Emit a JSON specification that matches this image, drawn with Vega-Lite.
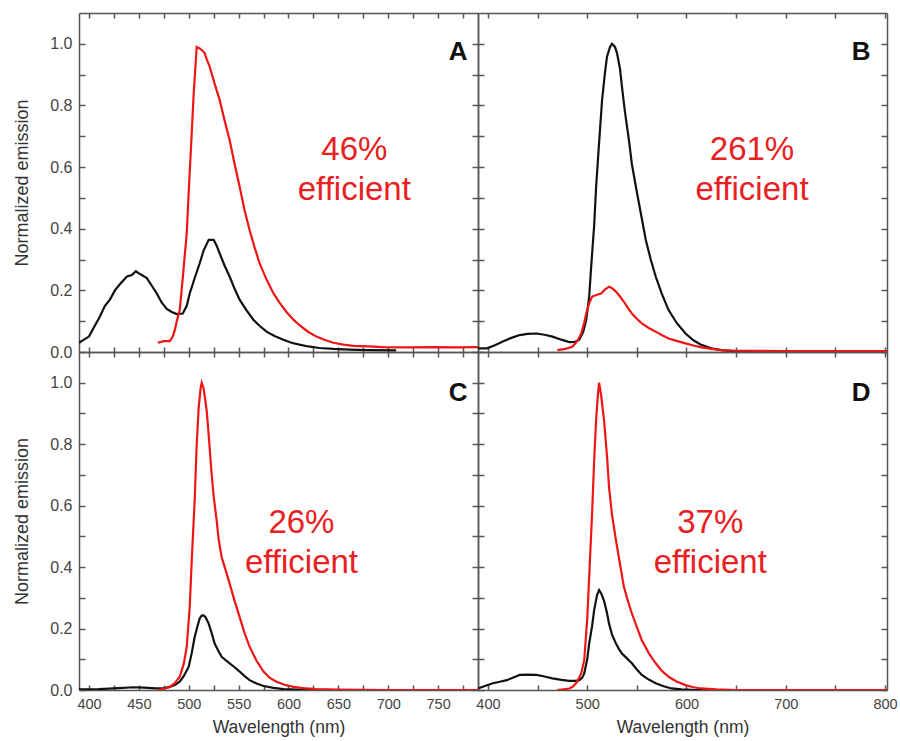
{
  "$schema": "https://vega.github.io/schema/vega-lite/v6.json",
  "padding": {"left": 13, "top": 12, "right": 5, "bottom": 5},
  "background": "white",
  "config": {
    "view": {"stroke": null},
    "font": "Liberation Sans",
    "axis": {"grid": false, "domainColor": "#555555", "domainWidth": 1.5, "tickColor": "#555555", "tickWidth": 1.5, "labelColor": "#444444", "labelFont": "Liberation Sans", "titleFont": "Liberation Sans", "titleFontWeight": "normal", "titleColor": "#333333", "labelFontSize": 16, "titleFontSize": 17.5}
  },
  "datasets": {
    "curves": [
      {"panel":"A","series":"black","wl":390,"v":0.03},{"panel":"A","series":"black","wl":395,"v":0.04},{"panel":"A","series":"black","wl":400,"v":0.05},{"panel":"A","series":"black","wl":405,"v":0.08},{"panel":"A","series":"black","wl":411,"v":0.115},{"panel":"A","series":"black","wl":416,"v":0.15},{"panel":"A","series":"black","wl":421,"v":0.17},{"panel":"A","series":"black","wl":426,"v":0.2},{"panel":"A","series":"black","wl":431,"v":0.22},{"panel":"A","series":"black","wl":438,"v":0.245},{"panel":"A","series":"black","wl":443,"v":0.25},{"panel":"A","series":"black","wl":447,"v":0.262},{"panel":"A","series":"black","wl":450,"v":0.255},{"panel":"A","series":"black","wl":453,"v":0.25},{"panel":"A","series":"black","wl":458,"v":0.24},{"panel":"A","series":"black","wl":463,"v":0.215},{"panel":"A","series":"black","wl":468,"v":0.19},{"panel":"A","series":"black","wl":473,"v":0.16},{"panel":"A","series":"black","wl":478,"v":0.14},{"panel":"A","series":"black","wl":483,"v":0.13},{"panel":"A","series":"black","wl":488,"v":0.123},{"panel":"A","series":"black","wl":494,"v":0.125},{"panel":"A","series":"black","wl":498,"v":0.15},{"panel":"A","series":"black","wl":501,"v":0.19},{"panel":"A","series":"black","wl":506,"v":0.24},{"panel":"A","series":"black","wl":511,"v":0.288},{"panel":"A","series":"black","wl":515,"v":0.33},{"panel":"A","series":"black","wl":520,"v":0.364},{"panel":"A","series":"black","wl":525,"v":0.364},{"panel":"A","series":"black","wl":528,"v":0.345},{"panel":"A","series":"black","wl":531,"v":0.32},{"panel":"A","series":"black","wl":536,"v":0.28},{"panel":"A","series":"black","wl":541,"v":0.245},{"panel":"A","series":"black","wl":546,"v":0.205},{"panel":"A","series":"black","wl":551,"v":0.17},{"panel":"A","series":"black","wl":558,"v":0.135},{"panel":"A","series":"black","wl":565,"v":0.104},{"panel":"A","series":"black","wl":571,"v":0.085},{"panel":"A","series":"black","wl":578,"v":0.066},{"panel":"A","series":"black","wl":586,"v":0.052},{"panel":"A","series":"black","wl":595,"v":0.04},{"panel":"A","series":"black","wl":603,"v":0.03},{"panel":"A","series":"black","wl":611,"v":0.024},{"panel":"A","series":"black","wl":620,"v":0.018},{"panel":"A","series":"black","wl":631,"v":0.013},{"panel":"A","series":"black","wl":645,"v":0.01},{"panel":"A","series":"black","wl":661,"v":0.008},{"panel":"A","series":"black","wl":680,"v":0.006},{"panel":"A","series":"black","wl":708,"v":0.005},
      {"panel":"A","series":"red","wl":469,"v":0.03},{"panel":"A","series":"red","wl":475,"v":0.035},{"panel":"A","series":"red","wl":481,"v":0.035},{"panel":"A","series":"red","wl":484,"v":0.05},{"panel":"A","series":"red","wl":486,"v":0.07},{"panel":"A","series":"red","wl":488,"v":0.1},{"panel":"A","series":"red","wl":491,"v":0.136},{"panel":"A","series":"red","wl":494,"v":0.24},{"panel":"A","series":"red","wl":498,"v":0.385},{"panel":"A","series":"red","wl":500,"v":0.52},{"panel":"A","series":"red","wl":503,"v":0.71},{"panel":"A","series":"red","wl":505,"v":0.84},{"panel":"A","series":"red","wl":508,"v":0.99},{"panel":"A","series":"red","wl":511,"v":0.985},{"panel":"A","series":"red","wl":513,"v":0.98},{"panel":"A","series":"red","wl":516,"v":0.97},{"panel":"A","series":"red","wl":518,"v":0.95},{"panel":"A","series":"red","wl":521,"v":0.926},{"panel":"A","series":"red","wl":526,"v":0.87},{"panel":"A","series":"red","wl":531,"v":0.818},{"panel":"A","series":"red","wl":536,"v":0.75},{"panel":"A","series":"red","wl":541,"v":0.688},{"panel":"A","series":"red","wl":546,"v":0.61},{"panel":"A","series":"red","wl":551,"v":0.537},{"panel":"A","series":"red","wl":556,"v":0.46},{"panel":"A","series":"red","wl":561,"v":0.396},{"panel":"A","series":"red","wl":566,"v":0.34},{"panel":"A","series":"red","wl":571,"v":0.288},{"panel":"A","series":"red","wl":578,"v":0.235},{"panel":"A","series":"red","wl":585,"v":0.19},{"panel":"A","series":"red","wl":591,"v":0.16},{"panel":"A","series":"red","wl":598,"v":0.13},{"panel":"A","series":"red","wl":605,"v":0.105},{"panel":"A","series":"red","wl":611,"v":0.087},{"panel":"A","series":"red","wl":620,"v":0.065},{"panel":"A","series":"red","wl":628,"v":0.05},{"panel":"A","series":"red","wl":636,"v":0.04},{"panel":"A","series":"red","wl":645,"v":0.03},{"panel":"A","series":"red","wl":655,"v":0.024},{"panel":"A","series":"red","wl":665,"v":0.02},{"panel":"A","series":"red","wl":680,"v":0.018},{"panel":"A","series":"red","wl":695,"v":0.016},{"panel":"A","series":"red","wl":720,"v":0.015},{"panel":"A","series":"red","wl":745,"v":0.016},{"panel":"A","series":"red","wl":770,"v":0.015},{"panel":"A","series":"red","wl":790,"v":0.016},
      {"panel":"B","series":"black","wl":390,"v":0.012},{"panel":"B","series":"black","wl":399,"v":0.012},{"panel":"B","series":"black","wl":407,"v":0.022},{"panel":"B","series":"black","wl":415,"v":0.034},{"panel":"B","series":"black","wl":423,"v":0.045},{"panel":"B","series":"black","wl":432,"v":0.055},{"panel":"B","series":"black","wl":440,"v":0.059},{"panel":"B","series":"black","wl":449,"v":0.06},{"panel":"B","series":"black","wl":457,"v":0.056},{"panel":"B","series":"black","wl":465,"v":0.05},{"panel":"B","series":"black","wl":474,"v":0.04},{"panel":"B","series":"black","wl":482,"v":0.032},{"panel":"B","series":"black","wl":488,"v":0.033},{"panel":"B","series":"black","wl":492,"v":0.04},{"panel":"B","series":"black","wl":496,"v":0.065},{"panel":"B","series":"black","wl":499,"v":0.104},{"panel":"B","series":"black","wl":502,"v":0.18},{"panel":"B","series":"black","wl":504,"v":0.277},{"panel":"B","series":"black","wl":507,"v":0.41},{"panel":"B","series":"black","wl":509,"v":0.537},{"panel":"B","series":"black","wl":512,"v":0.68},{"panel":"B","series":"black","wl":515,"v":0.818},{"panel":"B","series":"black","wl":518,"v":0.91},{"panel":"B","series":"black","wl":520,"v":0.959},{"panel":"B","series":"black","wl":523,"v":0.99},{"panel":"B","series":"black","wl":525,"v":1.0},{"panel":"B","series":"black","wl":528,"v":0.99},{"panel":"B","series":"black","wl":530,"v":0.97},{"panel":"B","series":"black","wl":533,"v":0.92},{"panel":"B","series":"black","wl":535,"v":0.861},{"panel":"B","series":"black","wl":538,"v":0.78},{"panel":"B","series":"black","wl":542,"v":0.688},{"panel":"B","series":"black","wl":545,"v":0.61},{"panel":"B","series":"black","wl":549,"v":0.537},{"panel":"B","series":"black","wl":554,"v":0.45},{"panel":"B","series":"black","wl":559,"v":0.364},{"panel":"B","series":"black","wl":564,"v":0.3},{"panel":"B","series":"black","wl":569,"v":0.245},{"panel":"B","series":"black","wl":575,"v":0.19},{"panel":"B","series":"black","wl":582,"v":0.136},{"panel":"B","series":"black","wl":590,"v":0.095},{"panel":"B","series":"black","wl":599,"v":0.06},{"panel":"B","series":"black","wl":607,"v":0.038},{"panel":"B","series":"black","wl":615,"v":0.023},{"panel":"B","series":"black","wl":625,"v":0.012},{"panel":"B","series":"black","wl":635,"v":0.006},{"panel":"B","series":"black","wl":650,"v":0.002},{"panel":"B","series":"black","wl":670,"v":0.001},{"panel":"B","series":"black","wl":700,"v":0.0},
      {"panel":"B","series":"red","wl":470,"v":0.006},{"panel":"B","series":"red","wl":478,"v":0.01},{"panel":"B","series":"red","wl":485,"v":0.017},{"panel":"B","series":"red","wl":490,"v":0.035},{"panel":"B","series":"red","wl":494,"v":0.06},{"panel":"B","series":"red","wl":497,"v":0.095},{"panel":"B","series":"red","wl":499,"v":0.125},{"panel":"B","series":"red","wl":502,"v":0.158},{"panel":"B","series":"red","wl":505,"v":0.18},{"panel":"B","series":"red","wl":510,"v":0.186},{"panel":"B","series":"red","wl":514,"v":0.19},{"panel":"B","series":"red","wl":518,"v":0.203},{"panel":"B","series":"red","wl":522,"v":0.212},{"panel":"B","series":"red","wl":525,"v":0.207},{"panel":"B","series":"red","wl":529,"v":0.196},{"panel":"B","series":"red","wl":533,"v":0.18},{"panel":"B","series":"red","wl":537,"v":0.163},{"panel":"B","series":"red","wl":541,"v":0.143},{"panel":"B","series":"red","wl":545,"v":0.125},{"panel":"B","series":"red","wl":550,"v":0.108},{"panel":"B","series":"red","wl":555,"v":0.093},{"panel":"B","series":"red","wl":562,"v":0.078},{"panel":"B","series":"red","wl":569,"v":0.066},{"panel":"B","series":"red","wl":575,"v":0.055},{"panel":"B","series":"red","wl":582,"v":0.044},{"panel":"B","series":"red","wl":590,"v":0.036},{"panel":"B","series":"red","wl":599,"v":0.028},{"panel":"B","series":"red","wl":607,"v":0.021},{"panel":"B","series":"red","wl":615,"v":0.015},{"panel":"B","series":"red","wl":625,"v":0.01},{"panel":"B","series":"red","wl":635,"v":0.006},{"panel":"B","series":"red","wl":650,"v":0.004},{"panel":"B","series":"red","wl":700,"v":0.003},{"panel":"B","series":"red","wl":750,"v":0.003},{"panel":"B","series":"red","wl":802,"v":0.003},
      {"panel":"C","series":"black","wl":390,"v":0.002},{"panel":"C","series":"black","wl":410,"v":0.003},{"panel":"C","series":"black","wl":430,"v":0.006},{"panel":"C","series":"black","wl":444,"v":0.009},{"panel":"C","series":"black","wl":455,"v":0.008},{"panel":"C","series":"black","wl":467,"v":0.005},{"panel":"C","series":"black","wl":475,"v":0.006},{"panel":"C","series":"black","wl":481,"v":0.01},{"panel":"C","series":"black","wl":486,"v":0.016},{"panel":"C","series":"black","wl":491,"v":0.027},{"panel":"C","series":"black","wl":495,"v":0.045},{"panel":"C","series":"black","wl":500,"v":0.076},{"panel":"C","series":"black","wl":503,"v":0.12},{"panel":"C","series":"black","wl":506,"v":0.173},{"panel":"C","series":"black","wl":509,"v":0.21},{"panel":"C","series":"black","wl":511,"v":0.233},{"panel":"C","series":"black","wl":513,"v":0.242},{"panel":"C","series":"black","wl":515,"v":0.243},{"panel":"C","series":"black","wl":517,"v":0.236},{"panel":"C","series":"black","wl":520,"v":0.216},{"panel":"C","series":"black","wl":523,"v":0.185},{"panel":"C","series":"black","wl":526,"v":0.151},{"panel":"C","series":"black","wl":530,"v":0.125},{"panel":"C","series":"black","wl":533,"v":0.108},{"panel":"C","series":"black","wl":537,"v":0.097},{"panel":"C","series":"black","wl":541,"v":0.087},{"panel":"C","series":"black","wl":546,"v":0.074},{"panel":"C","series":"black","wl":551,"v":0.06},{"panel":"C","series":"black","wl":556,"v":0.045},{"panel":"C","series":"black","wl":561,"v":0.032},{"panel":"C","series":"black","wl":568,"v":0.021},{"panel":"C","series":"black","wl":575,"v":0.013},{"panel":"C","series":"black","wl":585,"v":0.007},{"panel":"C","series":"black","wl":595,"v":0.003},{"panel":"C","series":"black","wl":610,"v":0.001},{"panel":"C","series":"black","wl":640,"v":0.0},
      {"panel":"C","series":"red","wl":469,"v":0.0},{"panel":"C","series":"red","wl":475,"v":0.004},{"panel":"C","series":"red","wl":481,"v":0.01},{"panel":"C","series":"red","wl":486,"v":0.022},{"panel":"C","series":"red","wl":491,"v":0.043},{"panel":"C","series":"red","wl":495,"v":0.085},{"panel":"C","series":"red","wl":498,"v":0.14},{"panel":"C","series":"red","wl":501,"v":0.27},{"panel":"C","series":"red","wl":503,"v":0.42},{"panel":"C","series":"red","wl":506,"v":0.62},{"panel":"C","series":"red","wl":508,"v":0.8},{"panel":"C","series":"red","wl":510,"v":0.92},{"panel":"C","series":"red","wl":512,"v":0.985},{"panel":"C","series":"red","wl":513,"v":1.0},{"panel":"C","series":"red","wl":515,"v":0.98},{"panel":"C","series":"red","wl":518,"v":0.909},{"panel":"C","series":"red","wl":520,"v":0.83},{"panel":"C","series":"red","wl":523,"v":0.703},{"panel":"C","series":"red","wl":525,"v":0.63},{"panel":"C","series":"red","wl":528,"v":0.552},{"panel":"C","series":"red","wl":530,"v":0.49},{"panel":"C","series":"red","wl":533,"v":0.433},{"panel":"C","series":"red","wl":537,"v":0.39},{"panel":"C","series":"red","wl":541,"v":0.346},{"panel":"C","series":"red","wl":546,"v":0.29},{"panel":"C","series":"red","wl":551,"v":0.238},{"panel":"C","series":"red","wl":556,"v":0.185},{"panel":"C","series":"red","wl":561,"v":0.141},{"panel":"C","series":"red","wl":568,"v":0.095},{"panel":"C","series":"red","wl":575,"v":0.06},{"panel":"C","series":"red","wl":581,"v":0.04},{"panel":"C","series":"red","wl":588,"v":0.027},{"panel":"C","series":"red","wl":596,"v":0.017},{"panel":"C","series":"red","wl":605,"v":0.01},{"panel":"C","series":"red","wl":615,"v":0.006},{"panel":"C","series":"red","wl":627,"v":0.003},{"panel":"C","series":"red","wl":650,"v":0.001},{"panel":"C","series":"red","wl":700,"v":0.0},{"panel":"C","series":"red","wl":790,"v":0.0},
      {"panel":"D","series":"black","wl":390,"v":0.005},{"panel":"D","series":"black","wl":397,"v":0.013},{"panel":"D","series":"black","wl":405,"v":0.022},{"panel":"D","series":"black","wl":412,"v":0.027},{"panel":"D","series":"black","wl":419,"v":0.032},{"panel":"D","series":"black","wl":425,"v":0.04},{"panel":"D","series":"black","wl":432,"v":0.049},{"panel":"D","series":"black","wl":440,"v":0.05},{"panel":"D","series":"black","wl":449,"v":0.049},{"panel":"D","series":"black","wl":457,"v":0.044},{"panel":"D","series":"black","wl":465,"v":0.038},{"panel":"D","series":"black","wl":474,"v":0.033},{"panel":"D","series":"black","wl":482,"v":0.03},{"panel":"D","series":"black","wl":488,"v":0.03},{"panel":"D","series":"black","wl":492,"v":0.032},{"panel":"D","series":"black","wl":495,"v":0.04},{"panel":"D","series":"black","wl":497,"v":0.054},{"panel":"D","series":"black","wl":500,"v":0.1},{"panel":"D","series":"black","wl":502,"v":0.151},{"panel":"D","series":"black","wl":505,"v":0.21},{"panel":"D","series":"black","wl":507,"v":0.26},{"panel":"D","series":"black","wl":510,"v":0.31},{"panel":"D","series":"black","wl":512,"v":0.325},{"panel":"D","series":"black","wl":514,"v":0.315},{"panel":"D","series":"black","wl":517,"v":0.29},{"panel":"D","series":"black","wl":520,"v":0.25},{"panel":"D","series":"black","wl":522,"v":0.216},{"panel":"D","series":"black","wl":525,"v":0.18},{"panel":"D","series":"black","wl":529,"v":0.151},{"panel":"D","series":"black","wl":532,"v":0.133},{"panel":"D","series":"black","wl":535,"v":0.119},{"panel":"D","series":"black","wl":540,"v":0.103},{"panel":"D","series":"black","wl":545,"v":0.087},{"panel":"D","series":"black","wl":550,"v":0.067},{"panel":"D","series":"black","wl":555,"v":0.049},{"panel":"D","series":"black","wl":562,"v":0.034},{"panel":"D","series":"black","wl":569,"v":0.022},{"panel":"D","series":"black","wl":577,"v":0.012},{"panel":"D","series":"black","wl":585,"v":0.005},{"panel":"D","series":"black","wl":595,"v":0.002},{"panel":"D","series":"black","wl":610,"v":0.0},{"panel":"D","series":"black","wl":640,"v":0.0},
      {"panel":"D","series":"red","wl":470,"v":0.0},{"panel":"D","series":"red","wl":476,"v":0.002},{"panel":"D","series":"red","wl":482,"v":0.005},{"panel":"D","series":"red","wl":486,"v":0.012},{"panel":"D","series":"red","wl":490,"v":0.027},{"panel":"D","series":"red","wl":494,"v":0.055},{"panel":"D","series":"red","wl":497,"v":0.097},{"panel":"D","series":"red","wl":500,"v":0.23},{"panel":"D","series":"red","wl":502,"v":0.368},{"panel":"D","series":"red","wl":505,"v":0.58},{"panel":"D","series":"red","wl":507,"v":0.747},{"panel":"D","series":"red","wl":509,"v":0.88},{"panel":"D","series":"red","wl":511,"v":0.97},{"panel":"D","series":"red","wl":512,"v":1.0},{"panel":"D","series":"red","wl":514,"v":0.96},{"panel":"D","series":"red","wl":517,"v":0.877},{"panel":"D","series":"red","wl":520,"v":0.76},{"panel":"D","series":"red","wl":522,"v":0.66},{"panel":"D","series":"red","wl":525,"v":0.57},{"panel":"D","series":"red","wl":529,"v":0.487},{"panel":"D","series":"red","wl":533,"v":0.41},{"panel":"D","series":"red","wl":537,"v":0.335},{"panel":"D","series":"red","wl":541,"v":0.29},{"panel":"D","series":"red","wl":545,"v":0.249},{"panel":"D","series":"red","wl":550,"v":0.205},{"panel":"D","series":"red","wl":555,"v":0.162},{"panel":"D","series":"red","wl":562,"v":0.12},{"panel":"D","series":"red","wl":569,"v":0.087},{"panel":"D","series":"red","wl":575,"v":0.063},{"panel":"D","series":"red","wl":582,"v":0.043},{"panel":"D","series":"red","wl":590,"v":0.028},{"panel":"D","series":"red","wl":599,"v":0.016},{"panel":"D","series":"red","wl":607,"v":0.009},{"panel":"D","series":"red","wl":615,"v":0.005},{"panel":"D","series":"red","wl":630,"v":0.002},{"panel":"D","series":"red","wl":650,"v":0.0},{"panel":"D","series":"red","wl":700,"v":0.0},{"panel":"D","series":"red","wl":802,"v":0.0}
    ],
    "notes": [
      {"panel":"A","wl":666,"v":0.656,"text":"46%\nefficient"},
      {"panel":"B","wl":666,"v":0.656,"text":"261%\nefficient"},
      {"panel":"C","wl":613,"v":0.545,"text":"26%\nefficient"},
      {"panel":"D","wl":624,"v":0.545,"text":"37%\nefficient"}
    ],
    "letters": [
      {"panel":"A","wl":770,"v":0.974,"text":"A"},
      {"panel":"B","wl":776,"v":0.974,"text":"B"},
      {"panel":"C","wl":770,"v":0.967,"text":"C"},
      {"panel":"D","wl":776,"v":0.967,"text":"D"}
    ]
  },
  "columns": 2,
  "spacing": 0,
  "bounds": "flush",
  "concat": [
    {
      "width": 399, "height": 339,
      "layer": [
        {"data": {"name": "curves"}, "transform": [{"filter": "datum.panel == 'A'"}],
         "mark": {"type": "line", "strokeWidth": 2.2, "clip": true},
         "encoding": {
           "x": {"field": "wl", "type": "quantitative", "scale": {"domain": [390, 790], "nice": false, "zero": false},
                 "axis": {"orient": "bottom", "values": [400,425,450,475,500,525,550,575,600,625,650,675,700,725,750,775], "tickSize": -5, "labels": false, "title": null}},
           "y": {"field": "v", "type": "quantitative", "scale": {"domain": [0, 1.1], "nice": false},
                 "axis": {"orient": "left", "values": [0,0.1,0.2,0.3,0.4,0.5,0.6,0.7,0.8,0.9,1.0], "tickSize": -6, "labelPadding": 13, "labelExpr": "round(datum.value*10)%2==0 ? format(datum.value,'.1f') : ''", "title": "Normalized emission", "titleFontSize": 18, "titlePadding": 18}},
           "color": {"field": "series", "type": "nominal", "scale": {"domain": ["black","red"], "range": ["#111111","#ee1515"]}, "legend": null}
         }},
        {"data": {"name": "notes"}, "transform": [{"filter": "datum.panel == 'A'"}],
         "mark": {"type": "text", "color": "#e8201f", "fontSize": 33, "lineHeight": 40, "lineBreak": "\n", "align": "center", "baseline": "middle"},
         "encoding": {
           "x": {"field": "wl", "type": "quantitative", "axis": {"orient": "top", "values": [400,425,450,475,500,525,550,575,600,625,650,675,700,725,750,775], "tickSize": -5, "labels": false, "title": null}},
           "y": {"field": "v", "type": "quantitative", "axis": {"orient": "right", "values": [0,0.1,0.2,0.3,0.4,0.5,0.6,0.7,0.8,0.9,1.0], "tickSize": -6, "labels": false, "title": null}},
           "text": {"field": "text"}
         }},
        {"data": {"name": "letters"}, "transform": [{"filter": "datum.panel == 'A'"}],
         "mark": {"type": "text", "color": "#111111", "fontSize": 26, "fontWeight": "bold", "align": "center", "baseline": "middle"},
         "encoding": {
           "x": {"field": "wl", "type": "quantitative", "axis": null},
           "y": {"field": "v", "type": "quantitative", "axis": null},
           "text": {"field": "text"}
         }}
      ],
      "resolve": {"axis": {"x": "independent", "y": "independent"}}
    },
    {
      "width": 409, "height": 339,
      "layer": [
        {"data": {"name": "curves"}, "transform": [{"filter": "datum.panel == 'B'"}],
         "mark": {"type": "line", "strokeWidth": 2.2, "clip": true},
         "encoding": {
           "x": {"field": "wl", "type": "quantitative", "scale": {"domain": [390, 802], "nice": false, "zero": false},
                 "axis": {"orient": "bottom", "values": [400,450,500,550,600,650,700,750,800], "tickSize": -5, "labels": false, "title": null}},
           "y": {"field": "v", "type": "quantitative", "scale": {"domain": [0, 1.1], "nice": false},
                 "axis": {"orient": "left", "values": [0,0.1,0.2,0.3,0.4,0.5,0.6,0.7,0.8,0.9,1.0], "tickSize": -6, "labels": false, "title": null}},
           "color": {"field": "series", "type": "nominal", "scale": {"domain": ["black","red"], "range": ["#111111","#ee1515"]}, "legend": null}
         }},
        {"data": {"name": "notes"}, "transform": [{"filter": "datum.panel == 'B'"}],
         "mark": {"type": "text", "color": "#e8201f", "fontSize": 33, "lineHeight": 40, "lineBreak": "\n", "align": "center", "baseline": "middle"},
         "encoding": {
           "x": {"field": "wl", "type": "quantitative", "axis": {"orient": "top", "values": [400,450,500,550,600,650,700,750,800], "tickSize": -5, "labels": false, "title": null}},
           "y": {"field": "v", "type": "quantitative", "axis": {"orient": "right", "values": [0,0.1,0.2,0.3,0.4,0.5,0.6,0.7,0.8,0.9,1.0], "tickSize": -6, "labels": false, "title": null}},
           "text": {"field": "text"}
         }},
        {"data": {"name": "letters"}, "transform": [{"filter": "datum.panel == 'B'"}],
         "mark": {"type": "text", "color": "#111111", "fontSize": 26, "fontWeight": "bold", "align": "center", "baseline": "middle"},
         "encoding": {
           "x": {"field": "wl", "type": "quantitative", "axis": null},
           "y": {"field": "v", "type": "quantitative", "axis": null},
           "text": {"field": "text"}
         }}
      ],
      "resolve": {"axis": {"x": "independent", "y": "independent"}}
    },
    {
      "width": 399, "height": 338,
      "layer": [
        {"data": {"name": "curves"}, "transform": [{"filter": "datum.panel == 'C'"}],
         "mark": {"type": "line", "strokeWidth": 2.2, "clip": true},
         "encoding": {
           "x": {"field": "wl", "type": "quantitative", "scale": {"domain": [390, 790], "nice": false, "zero": false},
                 "axis": {"orient": "bottom", "values": [400,425,450,475,500,525,550,575,600,625,650,675,700,725,750,775], "tickSize": -5, "labelPadding": 12, "labelFontSize": 14.5, "labelExpr": "datum.value % 50 == 0 ? datum.value : ''", "title": "Wavelength (nm)", "titlePadding": 8}},
           "y": {"field": "v", "type": "quantitative", "scale": {"domain": [0, 1.1], "nice": false},
                 "axis": {"orient": "left", "values": [0,0.1,0.2,0.3,0.4,0.5,0.6,0.7,0.8,0.9,1.0], "tickSize": -6, "labelPadding": 13, "labelExpr": "round(datum.value*10)%2==0 ? format(datum.value,'.1f') : ''", "title": "Normalized emission", "titleFontSize": 18, "titlePadding": 18}},
           "color": {"field": "series", "type": "nominal", "scale": {"domain": ["black","red"], "range": ["#111111","#ee1515"]}, "legend": null}
         }},
        {"data": {"name": "notes"}, "transform": [{"filter": "datum.panel == 'C'"}],
         "mark": {"type": "text", "color": "#e8201f", "fontSize": 33, "lineHeight": 40, "lineBreak": "\n", "align": "center", "baseline": "middle"},
         "encoding": {
           "x": {"field": "wl", "type": "quantitative", "axis": {"orient": "top", "values": [400,425,450,475,500,525,550,575,600,625,650,675,700,725,750,775], "tickSize": -5, "labels": false, "title": null}},
           "y": {"field": "v", "type": "quantitative", "axis": {"orient": "right", "values": [0,0.1,0.2,0.3,0.4,0.5,0.6,0.7,0.8,0.9,1.0], "tickSize": -6, "labels": false, "title": null}},
           "text": {"field": "text"}
         }},
        {"data": {"name": "letters"}, "transform": [{"filter": "datum.panel == 'C'"}],
         "mark": {"type": "text", "color": "#111111", "fontSize": 26, "fontWeight": "bold", "align": "center", "baseline": "middle"},
         "encoding": {
           "x": {"field": "wl", "type": "quantitative", "axis": null},
           "y": {"field": "v", "type": "quantitative", "axis": null},
           "text": {"field": "text"}
         }}
      ],
      "resolve": {"axis": {"x": "independent", "y": "independent"}}
    },
    {
      "width": 409, "height": 338,
      "layer": [
        {"data": {"name": "curves"}, "transform": [{"filter": "datum.panel == 'D'"}],
         "mark": {"type": "line", "strokeWidth": 2.2, "clip": true},
         "encoding": {
           "x": {"field": "wl", "type": "quantitative", "scale": {"domain": [390, 802], "nice": false, "zero": false},
                 "axis": {"orient": "bottom", "values": [400,450,500,550,600,650,700,750,800], "tickSize": -5, "labelPadding": 12, "labelFontSize": 14.5, "labelExpr": "datum.value % 100 == 0 ? datum.value : ''", "title": "Wavelength (nm)", "titlePadding": 8}},
           "y": {"field": "v", "type": "quantitative", "scale": {"domain": [0, 1.1], "nice": false},
                 "axis": {"orient": "left", "values": [0,0.1,0.2,0.3,0.4,0.5,0.6,0.7,0.8,0.9,1.0], "tickSize": -6, "labels": false, "title": null}},
           "color": {"field": "series", "type": "nominal", "scale": {"domain": ["black","red"], "range": ["#111111","#ee1515"]}, "legend": null}
         }},
        {"data": {"name": "notes"}, "transform": [{"filter": "datum.panel == 'D'"}],
         "mark": {"type": "text", "color": "#e8201f", "fontSize": 33, "lineHeight": 40, "lineBreak": "\n", "align": "center", "baseline": "middle"},
         "encoding": {
           "x": {"field": "wl", "type": "quantitative", "axis": {"orient": "top", "values": [400,450,500,550,600,650,700,750,800], "tickSize": -5, "labels": false, "title": null}},
           "y": {"field": "v", "type": "quantitative", "axis": {"orient": "right", "values": [0,0.1,0.2,0.3,0.4,0.5,0.6,0.7,0.8,0.9,1.0], "tickSize": -6, "labels": false, "title": null}},
           "text": {"field": "text"}
         }},
        {"data": {"name": "letters"}, "transform": [{"filter": "datum.panel == 'D'"}],
         "mark": {"type": "text", "color": "#111111", "fontSize": 26, "fontWeight": "bold", "align": "center", "baseline": "middle"},
         "encoding": {
           "x": {"field": "wl", "type": "quantitative", "axis": null},
           "y": {"field": "v", "type": "quantitative", "axis": null},
           "text": {"field": "text"}
         }}
      ],
      "resolve": {"axis": {"x": "independent", "y": "independent"}}
    }
  ]
}
